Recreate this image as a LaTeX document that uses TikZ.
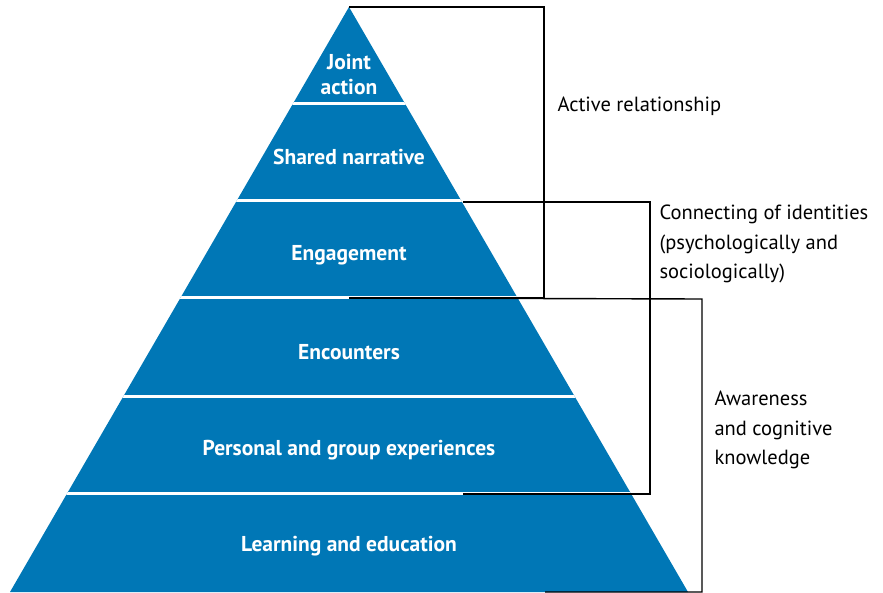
\documentclass[tikz,border=0pt]{standalone}
\usepackage{fontspec}
\setmainfont{PT Sans}
\definecolor{pyrblue}{RGB}{0,119,182}
\begin{document}
\begin{tikzpicture}[x=1pt,y=-1pt,
    lvl/.style={text=white, font=\bfseries\fontsize{21.5}{25}\selectfont, align=center},
    side/.style={anchor=west, font=\fontsize{20.5}{29.5}\selectfont, align=left},
    brk/.style={line width=1.4pt}]
\useasboundingbox (0,0) rectangle (883,593);

\coordinate (top) at (349,7);
\coordinate (bl) at (10,592);
\coordinate (br) at (688,592);
\fill[pyrblue](top)--(br)--(bl)--cycle;

% white bands
\begin{scope}
\clip (top)--(br)--(bl)--cycle;
\foreach \y in {104,201,298,396,493}
    \draw[white, line width=3pt](0,\y)--(700,\y);
\end{scope}

\node[lvl] (joint) at (349,75) {Joint\\action};
\node[lvl] (shared) at (349,157) {Shared narrative};
\node[lvl] (engage) at (349,255) {Engagement};
\node[lvl] (encount) at (349,352) {Encounters};
\node[lvl] (person) at (349,450) {Personal and group experiences};
\node[lvl] (learn) at (349,546) {Learning and education};

% brackets
\coordinate (a1) at (544,7);
\coordinate (a2) at (544,298);
\coordinate (a3) at (349,298);
\draw[brk](top)--(a1)--(a2)--(a3);

\coordinate (c0) at (463,202);
\coordinate (c1) at (650,202);
\coordinate (c2) at (650,494);
\coordinate (c3) at (463,494);
\draw[brk](c0)--(c1)--(c2)--(c3);

\coordinate (k1) at (702,299);
\coordinate (k2) at (702,592);
\coordinate (k3) at (545,592);
\draw[brk](a3)--(k1)--(k2)--(k3);

\node[side] (active) at (554,106) {Active relationship};
\node[side] (connect) at (656,244) {Connecting of identities\\(psychologically and\\sociologically)};
\node[side] (aware) at (711,430) {Awareness\\and cognitive\\knowledge};

\end{tikzpicture}
\end{document}
